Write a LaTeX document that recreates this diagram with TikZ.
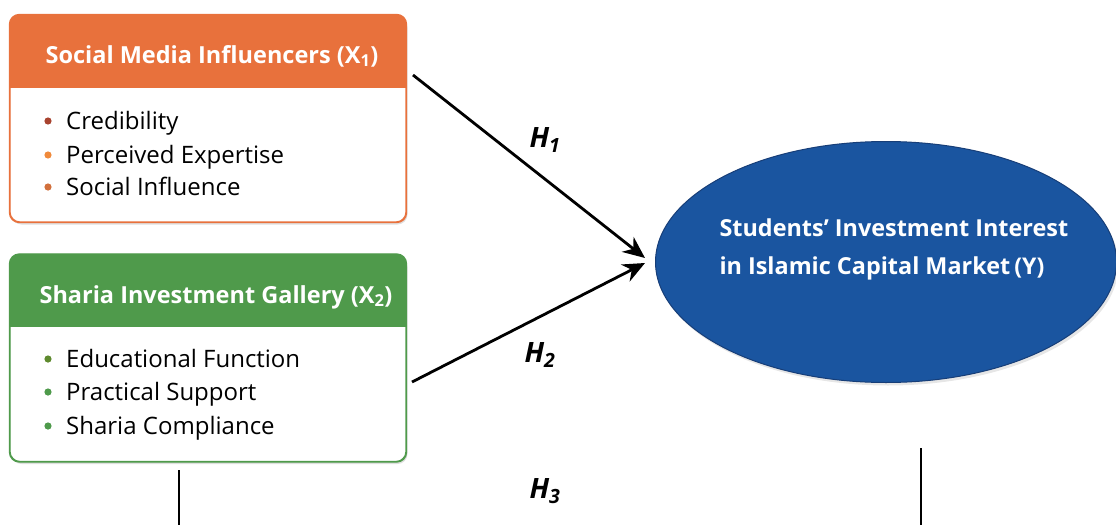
\documentclass[tikz,border=0pt]{standalone}
\usepackage{fontspec}
\setmainfont{Open Sans}
\usetikzlibrary{arrows.meta,shapes.geometric,shadows,positioning}

\definecolor{smorange}{HTML}{E8713C}
\definecolor{sigreen}{HTML}{4F9A4B}
\definecolor{ynavy}{HTML}{1A55A0}
\definecolor{yedge}{HTML}{173E78}

\tikzset{
  panel/.style={draw=#1, line width=1.2pt, rounded corners=10pt, fill=white,
    minimum width=396pt, minimum height=207pt,
    drop shadow={opacity=0.25, shadow xshift=1.5pt, shadow yshift=-2.5pt}},
  headtxt/.style={text=white, font=\fontsize{23.5}{28}\selectfont\bfseries},
  itemtxt/.style={anchor=base west, inner sep=0pt, font=\fontsize{24}{28}\selectfont},
  hyplabel/.style={font=\fontsize{28}{32}\selectfont\bfseries\itshape},
  hyparrow/.style={-{Stealth[length=22pt,width=19pt]}, line width=2.8pt},
  stem/.style={line width=1.2pt}
}

\begin{document}
\begin{tikzpicture}[x=1pt,y=-1pt]
    \useasboundingbox (0,0) rectangle (1116,525);

    % independent variables
    \node[panel=smorange] (x1) at (208,118.5) {};
    \begin{scope}
      \clip[rounded corners=10pt] (x1.north west) rectangle (x1.south east);
      \fill[smorange] (x1.north west) rectangle (406,88);
    \end{scope}
    \draw[smorange, line width=1.2pt, rounded corners=10pt] (x1.north west) rectangle (x1.south east);
    \node[headtxt] (x1head) at (212,56) {Social Media Influencers (X\textsubscript{1})};

    \node[panel=sigreen] (x2) at (208,358) {};
    \begin{scope}
      \clip[rounded corners=10pt] (x2.north west) rectangle (x2.south east);
      \fill[sigreen] (x2.north west) rectangle (406,327);
    \end{scope}
    \draw[sigreen, line width=1.2pt, rounded corners=10pt] (x2.north west) rectangle (x2.south east);
    \node[headtxt] (x2head) at (216,297) {Sharia Investment Gallery (X\textsubscript{2})};

    % indicators
    \foreach \ytop/\col/\txt [count=\i] in {121/A8432F/Credibility, 155/F08A3C/Perceived Expertise, 187/D2703C/Social Influence,
                                           359/5E8A2E/Educational Function, 392/4E9A4B/Practical Support, 426/4E9A4B/Sharia Compliance}{
      \definecolor{dotc}{HTML}{\col}
      \fill[dotc] (48,\ytop) circle (3.6pt);
      \node[itemtxt] (ind\i) at (66,\ytop+8.6) {\txt};
    }

    % dependent variable
    \node[ellipse, fill=ynavy, draw=yedge, line width=1pt, minimum width=461pt, minimum height=241pt,
          drop shadow={opacity=0.2, shadow xshift=2pt, shadow yshift=-3pt}] (y) at (886,262) {};
    \node[anchor=west, align=left, text=white, font=\fontsize{23.4}{38}\selectfont\bfseries] (ytxt) at (716,249)
      {Students’ Investment Interest\\in Islamic Capital Market\hspace{4pt}{\fontsize{23}{38}\selectfont (Y)}};

    % hypotheses
    \coordinate (h1s) at (413,75);
    \coordinate (h2s) at (412,382);
    \coordinate (h1e) at (645,258);
    \coordinate (h2e) at (645,263);
    \draw[hyparrow] (h1s) -- (h1e);
    \draw[hyparrow] (h2s) -- (h2e);
    \node[hyplabel] (h1) at (545,140) {H\textsubscript{1}};
    \node[hyplabel] (h2) at (540,355) {H\textsubscript{2}};
    \node[hyplabel] (h3) at (545,491) {H\textsubscript{3}};

    \coordinate (s1a) at (179,470);
    \coordinate (s1b) at (179,525);
    \coordinate (s2a) at (921,448);
    \coordinate (s2b) at (921,525);
    \draw[stem] (s1a) -- (s1b);
    \draw[stem] (s2a) -- (s2b);
\end{tikzpicture}
\end{document}
